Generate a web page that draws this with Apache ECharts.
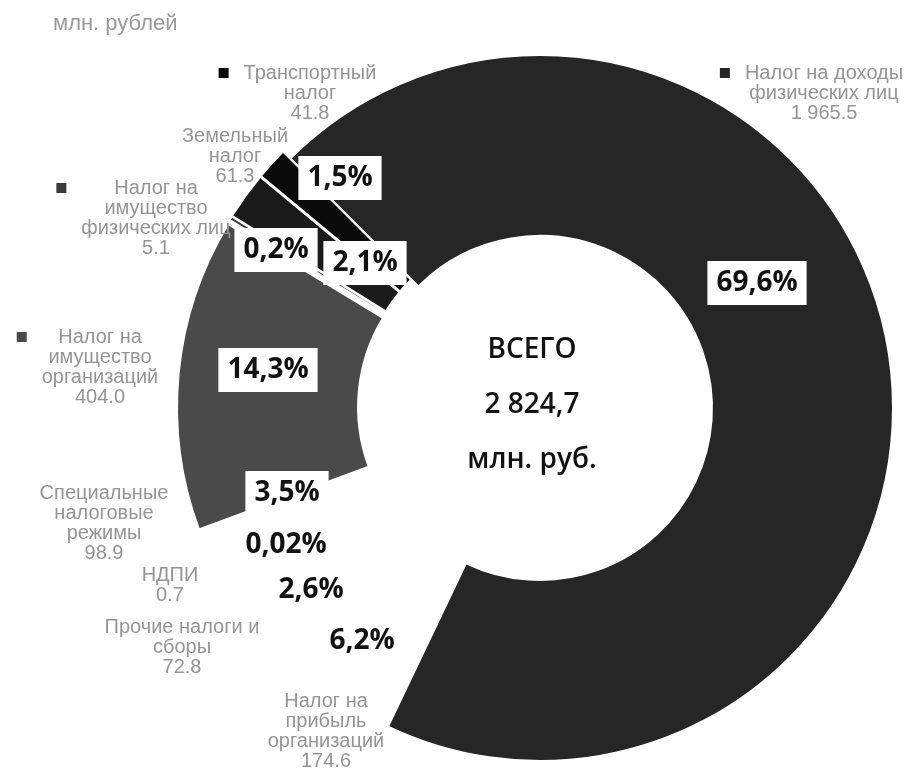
<!DOCTYPE html>
<html>
<head>
<meta charset="utf-8">
<script src="https://cdn.jsdelivr.net/npm/echarts@6/dist/echarts.min.js"></script>
<style>
html, body { margin: 0; padding: 0; background: #fff; }
#chart { width: 919px; height: 770px; }
</style>
</head>
<body>
<div id="chart"></div>
<script>
// tax revenue structure, mln rub
var names = [
    'Налог на доходы\nфизических лиц',
    'Налог на\nприбыль\nорганизаций',
    'Прочие налоги и\nсборы',
    'НДПИ',
    'Специальные\nналоговые\nрежимы',
    'Налог на\nимущество\nорганизаций',
    'Налог на\nимущество\nфизических лиц',
    'Земельный\nналог',
    'Транспортный\nналог'
];
var values = [1965.5, 174.6, 72.8, 0.7, 98.9, 404.0, 5.1, 61.3, 41.8];
var shareLabels = ['69,6%', '6,2%', '2,6%', '0,02%', '3,5%', '14,3%', '0,2%', '2,1%', '1,5%'];

var colors = ['#262626', '#ffffff', '#ffffff', '#ffffff', '#ffffff', '#4a4a4a', '#3a3a3a', '#1a1a1a', '#0a0a0a'];
// label anchors (px)
var sharePos = [[757, 283], [362, 641], [311, 590], [286, 545], [287, 493], [268, 370], [276, 250], [365, 263], [340, 178]];
var namePos = [[824, 93], [326, 731], [182, 647], [170, 585], [104, 523], [100, 367], [156, 218], [235, 156], [310, 93]];
var noMarker = [7];

var pieCenter = [540, 408];
var pieRadius = [172, 353];
var pieStart = 135;

function fmtValue(v) {
    var s = v.toFixed(1).split('.');
    return s[0].replace(/\B(?=(\d{3})+(?!\d))/g, ' ') + '.' + s[1];
}

var total = values.reduce(function (a, b) { return a + b; }, 0);
var totalText = total.toFixed(1).replace(/\B(?=(\d{3})+(?!\d))/g, ' ').replace('.', ',');

var rich = {
    t: { fontSize: 20, lineHeight: 20, color: '#959595', fontFamily: 'Liberation Sans' },
    pad: { width: 25, lineHeight: 20 },
    g: { width: 15, lineHeight: 20, align: 'left' }
};
colors.forEach(function (c, i) {
    rich['m' + i] = { width: 10, height: 10, backgroundColor: c, lineHeight: 20, align: 'left' };
});

var sectorData = values.map(function (v, i) {
    return { value: v, name: names[i], selected: i > 0, itemStyle: { color: colors[i] } };
});
var plainData = values.map(function (v, i) {
    return { value: v, name: names[i] };
});

function ghostPie(label, layout) {
    return {
        type: 'pie',
        z: 5,
        center: pieCenter,
        radius: pieRadius,
        startAngle: pieStart,
        silent: true,
        avoidLabelOverlap: false,
        itemStyle: { color: 'rgba(0,0,0,0)', borderWidth: 0 },
        label: label,
        labelLine: { show: false },
        labelLayout: layout,
        data: plainData
    };
}

var chart = echarts.init(document.getElementById('chart'));
var option = {
    animation: false,
    backgroundColor: '#fff',
    title: {
        text: 'млн. рублей',
        left: 48,
        top: 8,
        textStyle: { color: '#999', fontSize: 22, fontWeight: 'normal', fontFamily: 'Liberation Sans' }
    },
    graphic: [{
        type: 'text',
        x: 532,
        y: 405,
        style: {
            text: 'ВСЕГО\n' + totalText + '\nмлн. руб.',
            textAlign: 'center',
            textVerticalAlign: 'middle',
            font: '600 28px "Open Sans"',
            lineHeight: 55,
            fill: '#111'
        }
    }],
    series: [
        {
            type: 'pie',
            z: 1,
            center: pieCenter,
            radius: pieRadius,
            startAngle: pieStart,
            clockwise: true,
            selectedMode: 'multiple',
            selectedOffset: 10,
            silent: true,
            itemStyle: { borderColor: '#fff', borderWidth: 2 },
            label: { show: false },
            labelLine: { show: false },
            data: sectorData
        },
        ghostPie({
            show: true,
            position: 'inside',
            formatter: function (p) { return shareLabels[p.dataIndex]; },
            fontFamily: 'Open Sans',
            fontWeight: 'bold',
            fontSize: 28,
            lineHeight: 34,
            color: '#111',
            backgroundColor: '#fff',
            padding: [5, 9]
        }, function (p) {
            var c = sharePos[p.dataIndex];
            return { x: c[0], y: c[1], align: 'center', verticalAlign: 'middle' };
        }),
        ghostPie({
            show: true,
            position: 'outside',
            fontSize: 20,
            lineHeight: 20,
            formatter: function (p) {
                var i = p.dataIndex;
                var lines = names[i].split('\n').concat(fmtValue(values[i]));
                return lines.map(function (s, k) {
                    var left = (k === 0 && noMarker.indexOf(i) < 0) ? '{m' + i + '| }{g| }' : '{pad| }';
                    return left + '{t|' + s + '}{pad| }';
                }).join('\n');
            },
            rich: rich
        }, function (p) {
            var c = namePos[p.dataIndex];
            return { x: c[0], y: c[1], align: 'center', verticalAlign: 'middle' };
        })
    ]
};
chart.setOption(option);
</script>
</body>
</html>
